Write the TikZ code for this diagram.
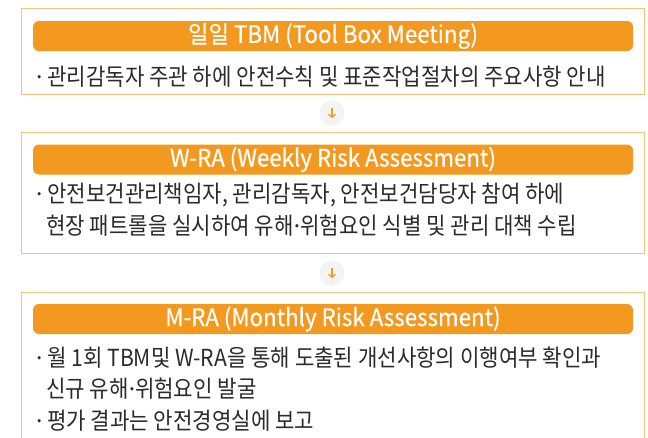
\documentclass[tikz,border=0pt]{standalone}
\usepackage{fontspec}
\usetikzlibrary{arrows.meta}
\setmainfont{Noto Sans CJK KR}[FakeStretch=0.9]
\newfontfamily\hdfont{Noto Sans CJK KR}[FakeStretch=0.93,FakeBold=0.4]
\newfontfamily\bdfont{Noto Sans CJK KR}[FakeStretch=0.9]
\newfontfamily\dotfont{Noto Sans}
\newcommand{\md}{{\dotfont ·}}
\definecolor{headfill}{HTML}{F3991F}
\definecolor{boxline}{HTML}{F8C27C}
\definecolor{bodytext}{HTML}{2B2B2B}
\definecolor{circfill}{HTML}{F2F4F3}
\definecolor{arrowcol}{HTML}{F39A25}
\begin{document}
\begin{tikzpicture}[x=1pt,y=-1pt,
  box/.style={draw=boxline, line width=1.4pt, fill=white, minimum width=623pt, inner sep=0pt, anchor=north west},
  head/.style={fill=headfill, rounded corners=6pt, minimum width=600pt, minimum height=30pt, text=white, font=\hdfont\fontsize{24}{28}\selectfont, inner sep=0pt},
  body/.style={anchor=west, text=bodytext, font=\bdfont\fontsize{23.5}{28}\selectfont, inner sep=0pt},
  stepcirc/.style={circle, fill=circfill, minimum size=25pt, inner sep=0pt},
  arr/.style={draw=arrowcol, line width=1.2pt, -{Straight Barb[length=3pt,width=7pt]}}]
\useasboundingbox (0,0) rectangle (648,437);
\fill[white] (0,0) rectangle (648,437);
% box 1
\node[box, minimum height=86pt] (b1) at (21,8) {};
\node[head] (h1) at (333,36) {일일 TBM (Tool Box Meeting)};
\node[body] (t11) at (36,77) {\md\ 관리감독자 주관 하에 안전수칙 및 표준작업절차의 주요사항 안내};
% circle 1
\node[stepcirc] (c1) at (332,113) {};
\draw[arr] ([yshift=5pt]c1.center) -- ([yshift=-5pt]c1.center);
% box 2
\node[box, minimum height=121pt] (b2) at (21,132) {};
\node[head] (h2) at (333,159.5) {W-RA (Weekly Risk Assessment)};
\node[body] (t21) at (36,195) {\md\ 안전보건관리책임자, 관리감독자, 안전보건담당자 참여 하에};
\node[body] (t22) at (46,226) {현장 패트롤을 실시하여 유해\md 위험요인 식별 및 관리 대책 수립};
% circle 2
\node[stepcirc] (c2) at (332,273) {};
\draw[arr] ([yshift=5pt]c2.center) -- ([yshift=-5pt]c2.center);
% box 3
\node[box, minimum height=160pt] (b3) at (21,292) {};
\node[head] (h3) at (333,319) {M-RA (Monthly Risk Assessment)};
\node[body] (t31) at (36,358) {\md\ 월 1회 TBM및 W-RA을 통해 도출된 개선사항의 이행여부 확인과};
\node[body] (t32) at (46,389) {신규 유해\md 위험요인 발굴};
\node[body] (t33) at (36,421) {\md\ 평가 결과는 안전경영실에 보고};
\end{tikzpicture}
\end{document}
